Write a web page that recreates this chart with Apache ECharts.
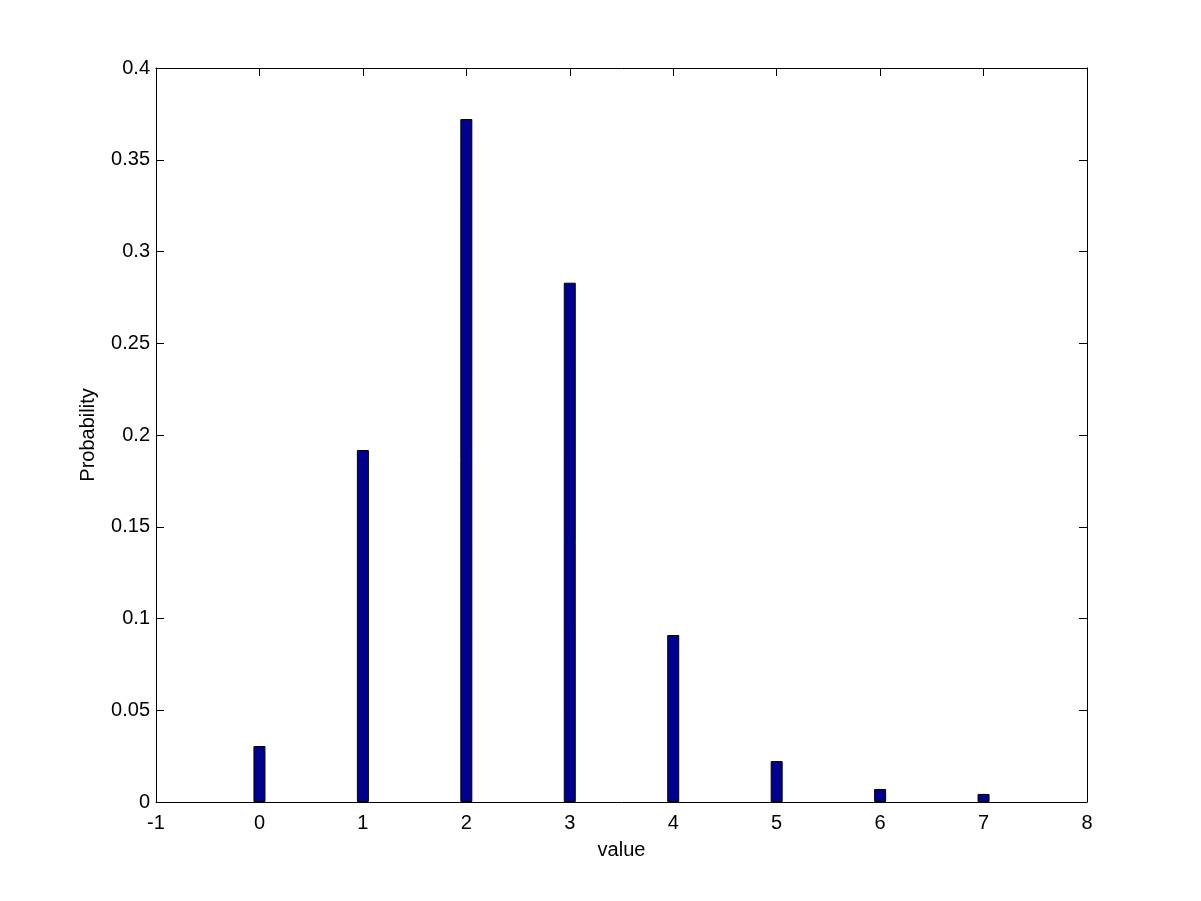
<!DOCTYPE html>
<html>
<head>
<meta charset="utf-8">
<script src="https://cdn.jsdelivr.net/npm/echarts@6/dist/echarts.min.js"></script>
<style>
  html, body { margin: 0; padding: 0; background: #fff; }
  #chart { width: 1201px; height: 901px; }
</style>
</head>
<body>
<div id="chart"></div>
<script>
// values on the x axis and their probabilities
const values = [0, 1, 2, 3, 4, 5, 6, 7]
const probs = [0.0305, 0.1918, 0.3722, 0.2830, 0.0910, 0.0223, 0.0071, 0.0044]

const xMin = -1, xMax = 8, xStep = 1
const yMin = 0, yMax = 0.4, yStep = 0.05

const font = 'Liberation Sans, Arial, sans-serif'
const fontSize = 20
const black = '#000'

const chart = echarts.init(document.getElementById('chart'))

// ticks point inward on all four sides, like a boxed plot
function axisCommon(showLabel) {
  return {
    axisLine: { show: true, onZero: false, lineStyle: { color: black, width: 1 } },
    axisTick: { show: true, inside: true, length: 8, lineStyle: { color: black } },
    splitLine: { show: false },
    axisLabel: { show: showLabel, color: black, fontFamily: font, fontSize: fontSize }
  }
}

chart.setOption({
  animation: false,
  backgroundColor: '#fff',
  grid: { left: 156, right: 114, top: 68, bottom: 99, containLabel: false },
  xAxis: [
    Object.assign(axisCommon(true), {
      type: 'value', min: xMin, max: xMax, interval: xStep, position: 'bottom',
      name: 'value', nameLocation: 'middle', nameGap: 38,
      nameTextStyle: { color: black, fontFamily: font, fontSize: fontSize },
      axisLabel: { show: true, color: black, fontFamily: font, fontSize: fontSize, margin: 11 }
    }),
    Object.assign(axisCommon(false), {
      type: 'value', min: xMin, max: xMax, interval: xStep, position: 'top'
    })
  ],
  yAxis: [
    Object.assign(axisCommon(true), {
      type: 'value', min: yMin, max: yMax, interval: yStep, position: 'left',
      name: 'Probability', nameLocation: 'middle', nameGap: 58, nameRotate: 90,
      nameTextStyle: { color: black, fontFamily: font, fontSize: fontSize },
      axisLabel: {
        show: true, color: black, fontFamily: font, fontSize: fontSize, margin: 6,
        formatter: v => String(+v.toFixed(2))
      }
    }),
    Object.assign(axisCommon(false), {
      type: 'value', min: yMin, max: yMax, interval: yStep, position: 'right'
    })
  ],
  series: [
    {
      type: 'bar',
      xAxisIndex: 0,
      yAxisIndex: 0,
      barWidth: 12,
      data: values.map((v, i) => [v, probs[i]]),
      itemStyle: { color: '#00008f', borderColor: black, borderWidth: 1 }
    }
  ]
})
</script>
</body>
</html>
